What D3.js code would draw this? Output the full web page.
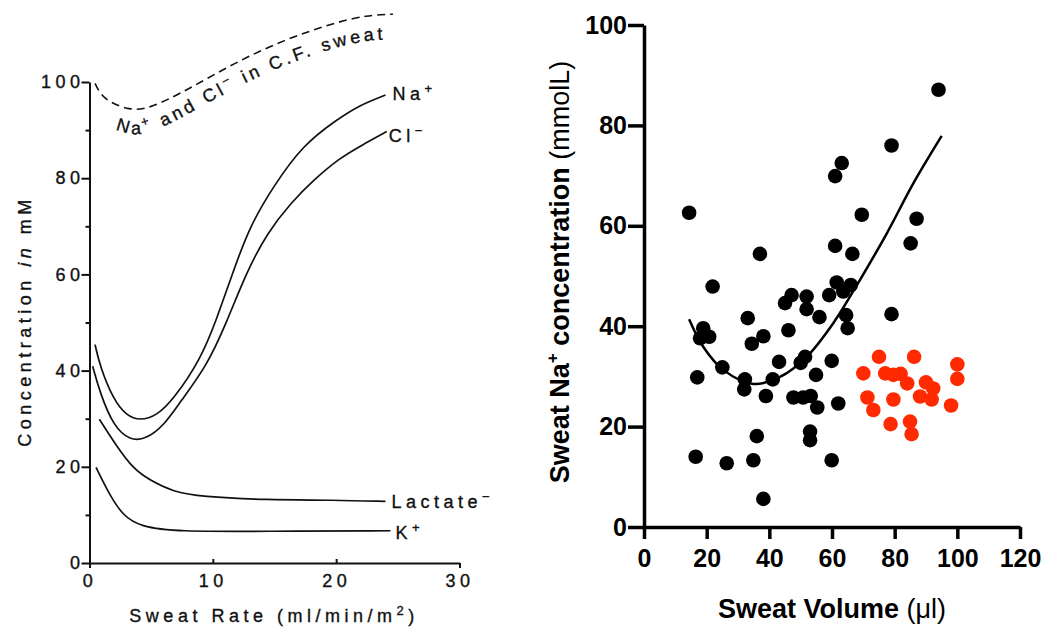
<!DOCTYPE html>
<html>
<head>
<meta charset="utf-8">
<script src="https://cdn.jsdelivr.net/npm/d3@7"></script>
<style>
  body { margin: 0; background: #fff; }
  svg { display: block; }
  .left text { font-family: "Liberation Sans", Arial, sans-serif; font-size: 18px; letter-spacing: 4.5px; fill: #111; stroke: #111; stroke-width: 0.35px; }
  .left .domain, .left .tick line { stroke: #111; stroke-width: 2px; }
  .right text { font-family: "Liberation Sans", Arial, sans-serif; fill: #000; }
  .right .domain, .right .tick line { stroke: #000; stroke-width: 3.5px; }
</style>
</head>
<body>
<div id="chart"></div>
<script>
// ---------- left panel: concentration vs sweat rate (curves) ----------
const naCurve = [[0.45, 45.4], [0.85, 40.9], [1.93, 34.0], [3.0, 30.6], [4.1, 29.6], [5.45, 30.6],
    [6.8, 34.0], [9.0, 42.3], [10.3, 50.6], [11.7, 61.0], [13.0, 70.0], [14.9, 78.3],
    [17.3, 86.9], [20.0, 92.1], [21.9, 95.2], [24.0, 97.3]];
const clCurve = [[0.26, 40.9], [0.85, 35.4], [1.93, 28.5], [3.3, 25.4], [4.6, 25.8], [6.0, 28.5],
    [7.3, 33.3], [9.5, 40.9], [11.1, 49.9], [12.7, 60.3], [14.4, 68.6], [16.3, 74.8],
    [18.2, 79.7], [20.3, 84.2], [21.9, 86.6], [24.1, 89.7]];
const lactateCurve = [[0.8, 29.9], [2.2, 24.3], [3.55, 19.6], [4.9, 17.2], [6.8, 14.8], [9.0, 13.8],
    [14.4, 13.1], [19.8, 13.1], [24.0, 12.8]];
const kCurve = [[0.53, 19.9], [1.66, 14.0], [2.74, 9.8], [4.1, 7.6], [7.1, 6.5], [14.4, 6.6], [24.4, 6.7]];
const cfCurve = [[0.45, 99.7], [1.1, 96.3], [3.3, 94.0], [4.9, 94.5], [7.9, 98.3], [11.7, 103.9],
    [15.7, 108.7], [19.8, 112.3], [22.5, 113.9], [24.6, 114.1]];

const rateTicks = [0, 10, 20, 30];
const concTicks = [0, 20, 40, 60, 80, 100];
const concMinorTicks = [10, 30, 50, 70, 90];

// ---------- right panel: sweat Na+ vs sweat volume ----------
const groupA = [[14.4, 62.6], [94.0, 87.1], [79.0, 76.0], [63.1, 72.5], [61.0, 69.9], [69.5, 62.2],
    [87.0, 61.4], [85.1, 56.5], [61.0, 56.0], [66.5, 54.4], [37.0, 54.4], [21.9, 47.9],
    [61.5, 48.7], [66.0, 48.2], [63.6, 46.9], [59.1, 46.2], [47.1, 46.2], [45.0, 44.6],
    [51.9, 45.9], [51.9, 43.4], [56.0, 41.8], [64.5, 42.2], [65.0, 39.6], [79.0, 42.4],
    [33.1, 41.6], [18.9, 39.6], [17.9, 37.6], [20.8, 37.9], [38.1, 38.0], [34.4, 36.5],
    [46.1, 39.2], [59.9, 33.1], [51.4, 33.9], [50.0, 32.7], [43.1, 32.9], [25.0, 31.8],
    [17.0, 29.8], [32.2, 29.4], [41.1, 29.4], [54.9, 30.3], [32.0, 27.4], [38.9, 26.1],
    [47.7, 25.8], [50.8, 25.8], [53.2, 26.1], [55.3, 23.8], [62.0, 24.6], [53.0, 19.0],
    [53.0, 17.3], [36.0, 18.1], [16.5, 14.0], [26.4, 12.7], [34.9, 13.3], [59.9, 13.3],
    [38.1, 5.6]];
const groupB = [[75.0, 33.9], [86.2, 33.9], [70.0, 30.6], [77.0, 30.6], [79.6, 30.3], [81.9, 30.5],
    [84.0, 28.6], [90.0, 28.8], [92.3, 27.6], [100.0, 32.4], [100.0, 29.5], [71.3, 25.8],
    [79.6, 25.4], [88.1, 26.0], [91.8, 25.4], [73.2, 23.3], [98.0, 24.2], [78.7, 20.5],
    [84.9, 21.0], [85.4, 18.5]];
const fitCurve = [[14.4, 41.4], [18.9, 35.9], [25.3, 31.3], [34.9, 28.5], [43.4, 29.9], [51.9, 33.9],
    [60.4, 40.6], [68.9, 49.2], [77.5, 58.5], [86.0, 68.5], [95.0, 77.9]];

const volumeTicks = [0, 20, 40, 60, 80, 100, 120];
const naTicks = [0, 20, 40, 60, 80, 100];

const svg = d3.select("#chart").append("svg")
    .attr("width", 1045)
    .attr("height", 631);

/////////////////////////////////////////////////////////
///////////////////// Left panel ////////////////////////
/////////////////////////////////////////////////////////

const xL = d3.scaleLinear().domain([0, 30]).range([89.5, 459.5]);
const yL = d3.scaleLinear().domain([0, 100]).range([563, 82]);
const left = svg.append("g").attr("class", "left");

left.append("g")
    .attr("transform", "translate(" + xL(0) + ",0)")
    .call(d3.axisLeft(yL).tickValues(concMinorTicks).tickSize(4).tickFormat(""))
    .select(".domain").remove();

left.append("g")
    .attr("transform", "translate(" + xL(0) + ",0)")
    .call(d3.axisLeft(yL).tickValues(concTicks).tickSize(8).tickSizeOuter(0).tickPadding(-3));

const xAxisL = left.append("g")
    .attr("transform", "translate(0," + yL(0) + ")")
    .call(d3.axisBottom(xL).tickValues(rateTicks).tickSize(5).tickSizeOuter(0).tickPadding(6));

// inner ticks point up, the end ones hang down
xAxisL.selectAll(".tick line")
    .attr("y2", (d) => (d === 0 || d === 30) ? 5 : -4);

const lineL = d3.line()
    .x((d) => xL(d[0]))
    .y((d) => yL(d[1]))
    .curve(d3.curveBasis);

const series = [
    { data: naCurve, name: "Na", sup: "+", dx: 7, dy: 5 },
    { data: clCurve, name: "Cl", sup: "\u2212", dx: 2, dy: 10 },
    { data: lactateCurve, name: "Lactate", sup: "\u2212", dx: 6, dy: 7 },
    { data: kCurve, name: "K", sup: "+", dx: 5, dy: 8 }
];

series.forEach((s) => {
    left.append("path")
        .attr("d", lineL(s.data))
        .attr("fill", "none")
        .attr("stroke", "#111")
        .attr("stroke-width", 1.7);

    const last = s.data[s.data.length - 1];
    const t = left.append("text")
        .attr("x", xL(last[0]) + s.dx)
        .attr("y", yL(last[1]) + s.dy);
    t.append("tspan").text(s.name);
    t.append("tspan").attr("dy", -7).attr("font-size", 13).text(s.sup);
});

left.append("path")
    .attr("d", lineL(cfCurve))
    .attr("fill", "none")
    .attr("stroke", "#111")
    .attr("stroke-width", 1.6)
    .attr("stroke-dasharray", "8,5");

// label runs along the dashed curve, a little below it
const cfLabelLine = d3.line()
    .x((d) => xL(d[0]))
    .y((d) => yL(d[1]) + 25)
    .curve(d3.curveBasis);

left.append("path")
    .attr("id", "cfPath")
    .attr("d", cfLabelLine(cfCurve))
    .attr("fill", "none")
    .attr("stroke", "none");

const cfText = left.append("text")
    .style("letter-spacing", "3.5px")
    .append("textPath")
    .attr("href", "#cfPath")
    .attr("startOffset", 30);
cfText.append("tspan").text("Na");
cfText.append("tspan").attr("dy", -7).attr("font-size", 13).text("+");
cfText.append("tspan").attr("dy", 7).text(" and Cl");
cfText.append("tspan").attr("dy", -7).attr("font-size", 13).text("\u2212");
cfText.append("tspan").attr("dy", 7).text(" in C.F. sweat");

left.append("text")
    .attr("transform", "translate(31," + 321 + ") rotate(-90)")
    .attr("text-anchor", "middle")
    .call((t) => {
        t.append("tspan").text("Concentration ");
        t.append("tspan").attr("font-style", "italic").text("in");
        t.append("tspan").text(" mM");
    });

left.append("text")
    .attr("x", 274)
    .attr("y", 622)
    .attr("text-anchor", "middle")
    .call((t) => {
        t.append("tspan").text("Sweat Rate (ml/min/m");
        t.append("tspan").attr("dy", -7).attr("font-size", 13).text("2");
        t.append("tspan").attr("dy", 7).text(")");
    });

/////////////////////////////////////////////////////////
//////////////////// Right panel ////////////////////////
/////////////////////////////////////////////////////////

const xR = d3.scaleLinear().domain([0, 120]).range([644, 1020]);
const yR = d3.scaleLinear().domain([0, 100]).range([527, 25]);
const right = svg.append("g").attr("class", "right");

right.append("g")
    .attr("transform", "translate(0," + yR(0) + ")")
    .call(d3.axisBottom(xR).tickValues(volumeTicks).tickSize(12).tickSizeOuter(0).tickPadding(10))
    .selectAll("text")
    .attr("font-size", 25)
    .attr("font-weight", "bold");

right.append("g")
    .attr("transform", "translate(" + xR(0) + ",0)")
    .call(d3.axisLeft(yR).tickValues(naTicks).tickSize(16).tickSizeOuter(0).tickPadding(1))
    .selectAll("text")
    .attr("font-size", 25)
    .attr("font-weight", "bold");

right.append("path")
    .attr("d", d3.line()
        .x((d) => xR(d[0]))
        .y((d) => yR(d[1]))
        .curve(d3.curveCatmullRom)(fitCurve))
    .attr("fill", "none")
    .attr("stroke", "#000")
    .attr("stroke-width", 2.5);

right.selectAll(".dotA")
    .data(groupA)
    .enter()
    .append("circle")
    .attr("class", "dotA")
    .attr("cx", (d) => xR(d[0]))
    .attr("cy", (d) => yR(d[1]))
    .attr("r", 7.3)
    .attr("fill", "#000");

right.selectAll(".dotB")
    .data(groupB)
    .enter()
    .append("circle")
    .attr("class", "dotB")
    .attr("cx", (d) => xR(d[0]))
    .attr("cy", (d) => yR(d[1]))
    .attr("r", 7.3)
    .attr("fill", "#ff2a00");

right.append("text")
    .attr("transform", "translate(569,272) rotate(-90)")
    .attr("text-anchor", "middle")
    .attr("font-size", 27)
    .call((t) => {
        t.append("tspan").attr("font-weight", "bold").text("Sweat Na");
        t.append("tspan").attr("font-weight", "bold").attr("font-size", 17).attr("dy", -11).text("+");
        t.append("tspan").attr("font-weight", "bold").attr("dy", 11).text(" concentration ");
        t.append("tspan").text("(mmolL)");
    });

right.append("text")
    .attr("x", xR(60))
    .attr("y", 618)
    .attr("text-anchor", "middle")
    .attr("font-size", 27)
    .call((t) => {
        t.append("tspan").attr("font-weight", "bold").text("Sweat Volume ");
        t.append("tspan").text("(\u03bcl)");
    });
</script>
</body>
</html>
